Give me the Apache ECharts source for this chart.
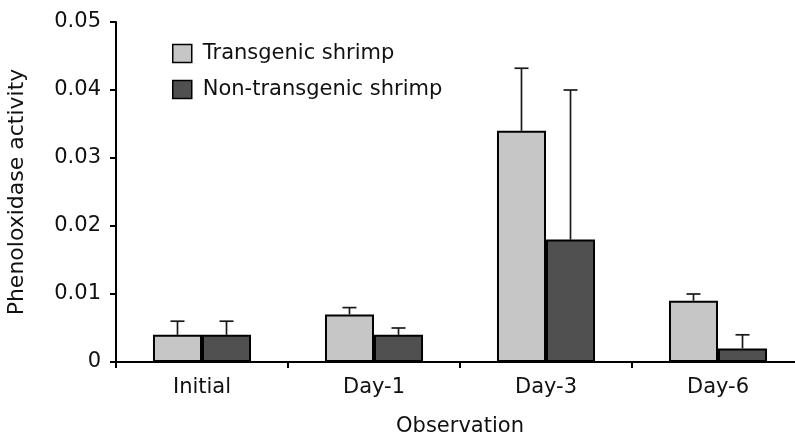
<!DOCTYPE html>
<html><head><meta charset="utf-8">
<script src="https://cdn.jsdelivr.net/npm/echarts@6/dist/echarts.min.js"></script>
<style>html,body{margin:0;padding:0;background:#fff}#c{width:795px;height:435px}</style>
</head><body><div id="c"></div>
<script>
const categories = ['Initial', 'Day-1', 'Day-3', 'Day-6'];
const transgenic = [0.004, 0.007, 0.034, 0.009];
const transgenicErr = [0.002, 0.001, 0.0092, 0.001];
const nonTransgenic = [0.004, 0.004, 0.018, 0.002];
const nonTransgenicErr = [0.002, 0.001, 0.022, 0.002];
const yTicks = [0, 0.01, 0.02, 0.03, 0.04, 0.05];

const FONT = 'DejaVu Sans';
const BAR_FRAC = 0.285;

function errSeries(name, vals, errs, side) {
  return {
    type: 'custom', name: name + ' err', silent: true, z: 1,
    data: vals.map((v, i) => [i, v, v + errs[i]]),
    renderItem: function (params, api) {
      const i = api.value(0);
      const base = api.coord([i, api.value(1)]);
      const top = api.coord([i, api.value(2)]);
      const band = api.size([1, 0])[0];
      const x = base[0] + side * band * BAR_FRAC / 2;
      const cap = 7;
      const st = { stroke: '#1a1a1a', lineWidth: 1.7 };
      return { type: 'group', children: [
        { type: 'line', shape: { x1: x, y1: base[1], x2: x, y2: top[1] }, style: st },
        { type: 'line', shape: { x1: x - cap, y1: top[1], x2: x + cap, y2: top[1] }, style: st }
      ]};
    }
  };
}

const chart = echarts.init(document.getElementById('c'), null, { renderer: 'canvas' });
chart.setOption({
  animation: false,
  textStyle: { fontFamily: FONT },
  grid: { left: 116, top: 22, height: 340, width: 688, containLabel: false, outerBoundsMode: 'none' },
  legend: {
    orient: 'vertical', left: 167, top: 38,
    icon: 'rect',
    itemWidth: 19, itemHeight: 18, itemGap: 15,
    itemStyle: { borderColor: '#000', borderWidth: 1.5 },
    textStyle: { fontFamily: FONT, fontSize: 21, color: '#111', padding: [0, 0, 0, 6] },
    data: ['Transgenic shrimp', 'Non-transgenic shrimp']
  },
  xAxis: {
    type: 'category', data: categories,
    name: 'Observation', nameLocation: 'middle', nameGap: 54,
    nameTextStyle: { fontFamily: FONT, fontSize: 21, color: '#111' },
    axisLine: { lineStyle: { color: '#000', width: 2 } },
    axisTick: { show: true, length: 6, lineStyle: { color: '#000', width: 2 } },
    axisLabel: { fontFamily: FONT, fontSize: 21, color: '#111', margin: 15 }
  },
  yAxis: {
    type: 'value', min: 0, max: 0.05, interval: 0.01,
    name: 'Phenoloxidase activity', nameLocation: 'middle', nameGap: 88,
    nameTextStyle: { fontFamily: FONT, fontSize: 22, color: '#111' },
    axisLine: { show: true, lineStyle: { color: '#000', width: 2 } },
    axisTick: { show: true, length: 6, lineStyle: { color: '#000', width: 2 } },
    splitLine: { show: false },
    axisLabel: { fontFamily: FONT, fontSize: 21, color: '#111', margin: 15,
      formatter: v => { const t = yTicks.find(x => Math.abs(x - v) < 1e-9); return t === 0 ? '0' : String(+v.toFixed(2)); } }
  },
  series: [
    { type: 'bar', name: 'Transgenic shrimp', data: transgenic, barWidth: (BAR_FRAC * 100) + '%', barGap: '0%',
      itemStyle: { color: '#c6c6c6', borderColor: '#000', borderWidth: 2 }, z: 2 },
    { type: 'bar', name: 'Non-transgenic shrimp', data: nonTransgenic, barWidth: (BAR_FRAC * 100) + '%', barGap: '0%',
      itemStyle: { color: '#505050', borderColor: '#000', borderWidth: 2 }, z: 2 },
    errSeries('Transgenic shrimp', transgenic, transgenicErr, -1),
    errSeries('Non-transgenic shrimp', nonTransgenic, nonTransgenicErr, 1)
  ]
});
</script></body></html>
